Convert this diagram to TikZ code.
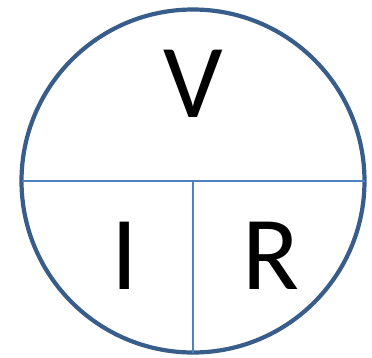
\documentclass[tikz,border=0pt]{standalone}
\usepackage{fontspec}
\setmainfont{Carlito}
\usetikzlibrary{positioning}
\definecolor{RingBlue}{RGB}{56,93,138}
\definecolor{SplitBlue}{RGB}{79,129,189}

\begin{document}
\begin{tikzpicture}[x=1pt, y=-1pt, every node/.style={inner sep=0pt, outer sep=0pt}]
  \tikzset{
    ring/.style={draw=RingBlue, line width=4.2pt, circle, minimum size=343pt},
    split/.style={draw=SplitBlue, line width=1.3pt},
    letter/.style={font=\fontsize{105}{105}\selectfont}
  }
  \useasboundingbox (0,0) rectangle (372,357);
  \node[ring] (wheel) at (193,181) {};
  \draw[split] (wheel.west) -- (wheel.east);
  \draw[split] (wheel.center) -- (wheel.south);
  \node[letter] (volt) at (193.5,84) {V};
  \node[letter] (amp) at (125,256) {I};
  \node[letter] (ohm) at (271.5,256) {R};
\end{tikzpicture}
\end{document}
